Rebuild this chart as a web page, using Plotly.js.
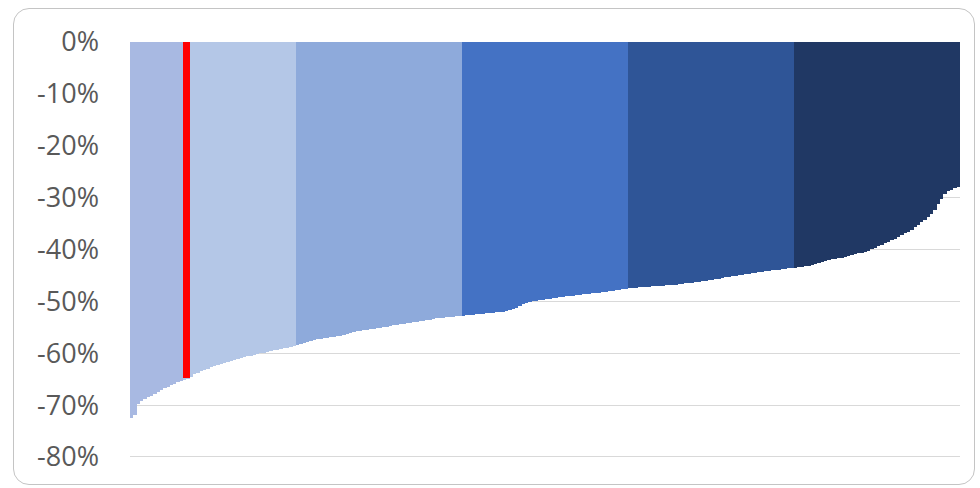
<!DOCTYPE html>
<html>
<head>
<meta charset="utf-8">
<script src="https://cdn.plot.ly/plotly-3.0.1.min.js"></script>
<style>
  html, body { margin: 0; padding: 0; background: #ffffff; }
  #wrap { position: relative; width: 980px; height: 488px; overflow: hidden; }
  #chart { position: absolute; left: 0; top: 0; width: 980px; height: 488px; }
  #frame { position: absolute; left: 13px; top: 8px; width: 960px; height: 475px;
           border: 1.5px solid #c4c4c4; border-radius: 16px; pointer-events: none; }
</style>
</head>
<body>
<div id="wrap">
  <div id="chart"></div>
  <div id="frame"></div>
</div>
<script>
// Values (%) sorted ascending, split into five equal groups (quintiles)
const group1 = [-72.5,-72.0,-69.8,-69.3,-68.9,-68.5,-68.2,-67.9,-67.5,-67.1,
                -66.8,-66.5,-66.2,-65.9,-65.6,-65.4,-65.2,-64.9,-64.5,-64.1,
                -63.8,-63.5,-63.2,-63.0,-62.7,-62.5,-62.3,-62.1,-61.9,-61.7,
                -61.5,-61.3,-61.1,-61.0,-60.8,-60.6,-60.5,-60.3,-60.2,-60.0,
                -59.9,-59.7,-59.6,-59.4,-59.3,-59.2,-59.0,-58.9,-58.8,-58.7];
const group2 = [-58.4,-58.2,-58.0,-57.8,-57.6,-57.5,-57.3,-57.2,-57.1,-57.0,
                -56.9,-56.8,-56.7,-56.6,-56.5,-56.3,-56.1,-56.0,-55.8,-55.7,
                -55.6,-55.5,-55.4,-55.3,-55.2,-55.1,-55.0,-54.9,-54.7,-54.6,
                -54.5,-54.4,-54.3,-54.2,-54.1,-54.0,-53.9,-53.8,-53.7,-53.6,
                -53.5,-53.4,-53.3,-53.3,-53.2,-53.1,-53.1,-53.0,-52.9,-52.8];
const group3 = [-52.8,-52.7,-52.6,-52.6,-52.5,-52.4,-52.4,-52.3,-52.2,-52.2,
                -52.1,-52.0,-52.0,-51.9,-51.7,-51.5,-51.2,-50.9,-50.6,-50.4,
                -50.2,-50.0,-49.9,-49.8,-49.7,-49.6,-49.5,-49.4,-49.3,-49.2,
                -49.1,-49.0,-48.9,-48.9,-48.8,-48.7,-48.6,-48.6,-48.5,-48.4,
                -48.3,-48.3,-48.2,-48.1,-48.0,-48.0,-47.9,-47.8,-47.7,-47.6];
const group4 = [-47.5,-47.4,-47.4,-47.3,-47.3,-47.2,-47.2,-47.1,-47.1,-47.0,
                -47.0,-46.9,-46.9,-46.8,-46.8,-46.7,-46.6,-46.5,-46.5,-46.4,
                -46.3,-46.2,-46.1,-46.0,-45.9,-45.8,-45.7,-45.6,-45.5,-45.4,
                -45.3,-45.2,-45.1,-45.0,-44.9,-44.8,-44.7,-44.6,-44.5,-44.4,
                -44.3,-44.2,-44.1,-44.0,-43.9,-43.9,-43.8,-43.7,-43.6,-43.5];
const group5 = [-43.5,-43.4,-43.3,-43.2,-43.1,-43.0,-42.8,-42.6,-42.4,-42.2,
                -42.0,-41.9,-41.8,-41.7,-41.6,-41.5,-41.3,-41.1,-40.9,-40.7,
                -40.6,-40.4,-40.2,-40.0,-39.7,-39.4,-39.1,-38.8,-38.5,-38.2,
                -37.9,-37.6,-37.2,-36.9,-36.6,-36.2,-35.6,-35.2,-34.7,-34.3,
                -33.8,-33.2,-32.4,-31.3,-30.3,-29.3,-28.8,-28.5,-28.2,-28.0];

// Highlighted entry (red bar)
const highlightIndex = 16.5;
const highlightValue = -64.8;

const groupColors = ['#b4c7e7', '#8eaadb', '#4472c4', '#2f5597', '#203864'];
const preHighlightColor = '#a8b9e2';

const yTickVals = [0, -10, -20, -30, -40, -50, -60, -70, -80];
const yTickText = ['0%', '-10%', '-20%', '-30%', '-40%', '-50%', '-60%', '-70%', '-80%'];

const groups = [group1, group2, group3, group4, group5];
const traces = [];
let offset = 0;
groups.forEach((g, gi) => {
  const xs = g.map((_, i) => offset + i);
  const colors = g.map((_, i) => (gi === 0 && offset + i < highlightIndex - 0.5) ? preHighlightColor : groupColors[gi]);
  traces.push({
    type: 'bar', x: xs, y: g, width: 1.0,
    marker: { color: colors, line: { width: 0 } },
    hoverinfo: 'skip', showlegend: false
  });
  offset += g.length;
});
traces.push({
  type: 'bar', x: [highlightIndex], y: [highlightValue], width: 2.1,
  marker: { color: '#ff0000', line: { width: 0 } },
  hoverinfo: 'skip', showlegend: false
});

const total = offset;
const layout = {
  width: 980, height: 488,
  margin: { l: 130, r: 20, t: 42, b: 30, pad: 0 },
  paper_bgcolor: '#ffffff', plot_bgcolor: '#ffffff',
  barmode: 'overlay', bargap: 0,
  showlegend: false,
  xaxis: { range: [-0.5, total - 0.5], showgrid: false, zeroline: false,
           showticklabels: false, ticks: '', showline: false, fixedrange: true },
  yaxis: { range: [-80.2, 0], tickvals: yTickVals, ticktext: yTickText,
           showgrid: true, gridcolor: '#d9d9d9', gridwidth: 1,
           zeroline: false, showline: false, ticks: '',
           ticklabelstandoff: 30,
           tickfont: { family: 'Open Sans, sans-serif', size: 27, color: '#595959' },
           fixedrange: true }
};

Plotly.newPlot('chart', traces, layout, { displayModeBar: false, staticPlot: true });
</script>
</body>
</html>
